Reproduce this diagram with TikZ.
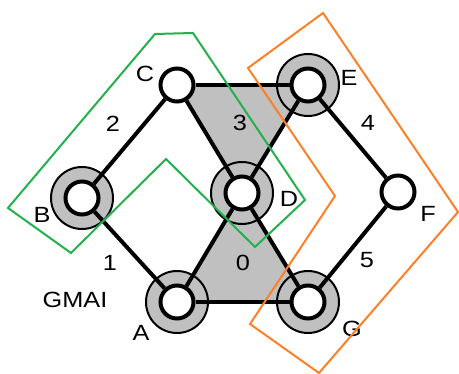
\documentclass[tikz,border=0pt]{standalone}
\usepackage{fontspec}
\setmainfont{Liberation Sans}
\definecolor{ringgray}{RGB}{192,192,192}
\definecolor{grpoly}{RGB}{34,177,76}
\definecolor{orpoly}{RGB}{255,127,39}
\begin{document}
\begin{tikzpicture}[x=1pt,y=-1pt,
  vert/.style={circle,draw=black,fill=white,line width=4pt,minimum size=33pt,inner sep=0pt},
  ringc/.style={circle,draw=black,fill=ringgray,line width=2pt,minimum size=62pt,inner sep=0pt},
  edge/.style={line width=4pt},
  lbl/.style={font=\fontsize{22}{24}\selectfont,inner sep=0pt,xscale=1.15},
  greenp/.style={draw=grpoly,line width=2pt,line join=miter},
  orangep/.style={draw=orpoly,line width=2pt,line join=miter}]
\useasboundingbox (0,0) rectangle (459,374);
% centres
\coordinate (pA) at (177,302);
\coordinate (pB) at (82,198);
\coordinate (pC) at (177,85);
\coordinate (pD) at (242,193);
\coordinate (pE) at (308,85);
\coordinate (pF) at (398,192);
\coordinate (pG) at (308,302);
% gray faces
\fill[ringgray] (pC) -- (pE) -- (pD) -- cycle;
\fill[ringgray] (pA) -- (pD) -- (pG) -- cycle;
% rings
\node[ringc] (rA) at (pA) {};
\node[ringc] (rB) at (pB) {};
\node[ringc] (rD) at (pD) {};
\node[ringc] (rE) at (pE) {};
\node[ringc] (rG) at (pG) {};
% vertices
\node[vert] (A) at (pA) {};
\node[vert] (B) at (pB) {};
\node[vert] (C) at (pC) {};
\node[vert] (D) at (pD) {};
\node[vert] (E) at (pE) {};
\node[vert] (F) at (pF) {};
\node[vert] (G) at (pG) {};
% edges
\draw[edge] (C) -- (B);
\draw[edge] (B) -- (A);
\draw[edge] (C) -- (E);
\draw[edge] (C) -- (D);
\draw[edge] (E) -- (D);
\draw[edge] (E) -- (F);
\draw[edge] (F) -- (G);
\draw[edge] (A) -- (D);
\draw[edge] (D) -- (G);
\draw[edge] (A) -- (G);
% labels
\node[lbl] (lC) at (145,74) {C};
\node[lbl] (lE) at (349,78) {E};
\node[lbl] (lB) at (42,215) {B};
\node[lbl] (lD) at (289,199) {D};
\node[lbl] (lF) at (428,214) {F};
\node[lbl] (lA) at (141,333) {A};
\node[lbl] (lG) at (352,329) {G};
\node[lbl] (n2) at (113,124) {2};
\node[lbl] (n3) at (240,123) {3};
\node[lbl] (n4) at (368,123) {4};
\node[lbl] (n1) at (110,263) {1};
\node[lbl] (n0) at (243,263) {0};
\node[lbl] (n5) at (367,260) {5};
\node[lbl] (gm) at (75,300) {GMAI};
% groups
\draw[greenp] (155,34) -- (193,33) -- (305,200) -- (255,247) -- (166,159) -- (71,253) -- (8,208) -- cycle;
\draw[orangep] (323,13) -- (458,212) -- (319,373) -- (250,324) -- (335,196) -- (248,68) -- cycle;
\end{tikzpicture}
\end{document}
